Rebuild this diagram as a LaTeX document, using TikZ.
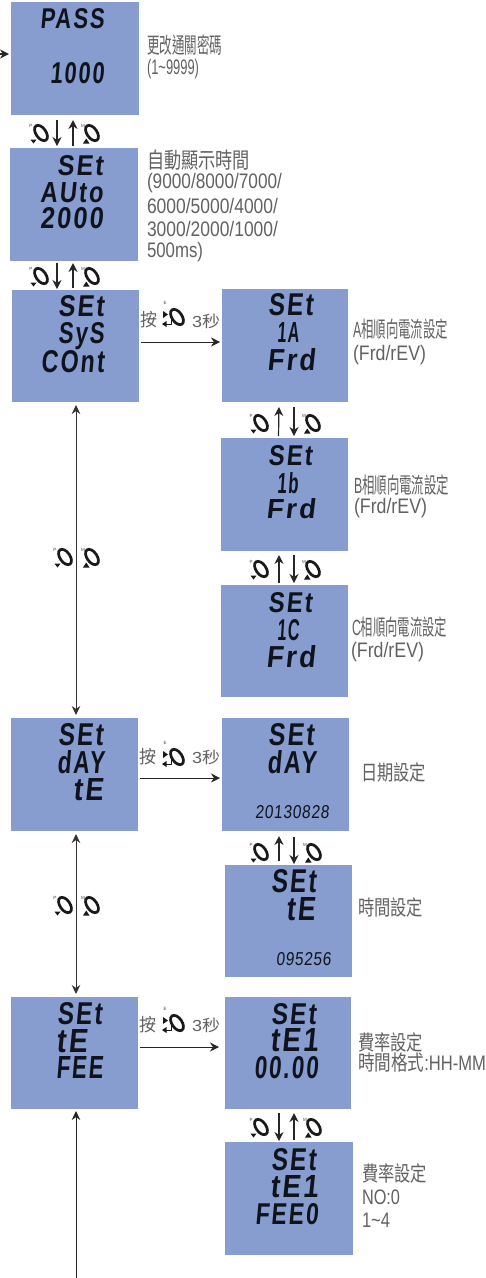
\documentclass[tikz,border=0pt]{standalone}
\usepackage{fontspec}
\usepackage{graphicx}
\usetikzlibrary{arrows.meta,calc}
\setmainfont{Liberation Sans}
\newfontfamily\zhfont{Noto Sans CJK TC}
\newfontfamily\lcdfont[BoldFont={Liberation Sans Bold},FakeSlant=0.12,LetterSpace=9]{Liberation Sans Bold}
\newfontfamily\lcdthin[FakeSlant=0.12,LetterSpace=5]{Liberation Sans}
\definecolor{lcdblue}{HTML}{879DCF}
\definecolor{labelgrey}{HTML}{626262}
\definecolor{lcdink}{HTML}{10131C}
\newcommand{\LCD}[3]{\resizebox{#1pt}{#2pt}{\lcdfont #3}}
\newcommand{\LCDs}[3]{\resizebox{#1pt}{#2pt}{\lcdthin #3}}
\newcommand{\Lbl}[3]{\resizebox{#1pt}{\height}{\fontsize{#2}{#2}\selectfont #3}}
\newcommand{\zh}[1]{{\zhfont #1}}
\tikzset{
  x=1pt,y=-1pt,
  screen/.style={fill=lcdblue,draw=none,inner sep=0pt,outer sep=0pt},
  lcd/.style={anchor=base west,inner sep=0pt,outer sep=0pt,text=lcdink},
  lbl/.style={anchor=west,inner sep=0pt,outer sep=0pt,text=labelgrey},
  link/.style={line width=1pt,draw=black!85},
  small/.style={line width=1.2pt,draw=black!85,-{Stealth[length=9pt,width=9pt]}},
  longlink/.style={line width=1pt,draw=black!80,{Stealth[length=9pt,width=8.5pt]}-{Stealth[length=9pt,width=8.5pt]}},
  horiz/.style={line width=.9pt,draw=black!85,-{Stealth[length=9pt,width=9pt]}},
  knob/.style={line width=2.7pt,draw=black!90},
  tiny/.style={inner sep=0pt,outer sep=0pt,font=\fontsize{4.5}{4.5}\selectfont,text=black!75},
  dialP/.pic={
    \draw[knob,rotate=-55] (0,0) ellipse (8.7 and 5);
    \node[tiny] (letter) at (-10,-7) {P};
    \fill[black!90] (-10.5,6.5) -- (-4.5,6.5) -- (-7.5,10.5) -- cycle;
  },
  dialM/.pic={
    \draw[knob,rotate=-55] (0,0) ellipse (8.7 and 5);
    \node[tiny] (letter) at (-9,-7) {M};
    \fill[black!90] (-9,10.5) -- (-2.5,10.5) -- (-5.7,5.5) -- cycle;
  },
  dialE/.pic={
    \draw[knob,rotate=-55] (0,0) ellipse (8.7 and 5);
    \node[tiny] (letter) at (-12,-14) {E};
    \fill[black!90] (-14,-6) -- (-9,-2.5) -- (-14,1) -- cycle;
    \draw[line width=.9pt,black!90] (-6,1) -- (-6,7) -- (-11,7);
    \fill[black!90] (-15,7) -- (-10.5,4) -- (-10.5,10) -- cycle;
  },
}
\begin{document}
\begin{tikzpicture}
\useasboundingbox (0,0) rectangle (486,1278);
% screens
\fill[white] (0,0) rectangle (486,1278);
\node[screen,minimum width=128pt,minimum height=113pt] (pass) at (75,58.5) {};
\node[screen,minimum width=128pt,minimum height=113pt] (auto) at (74,204.5) {};
\node[screen,minimum width=127pt,minimum height=112pt] (cont) at (75.5,346) {};
\node[screen,minimum width=126pt,minimum height=113pt] (phA) at (285,345.5) {};
\node[screen,minimum width=127pt,minimum height=113pt] (phB) at (284.5,494.5) {};
\node[screen,minimum width=127pt,minimum height=112pt] (phC) at (284.5,641) {};
\node[screen,minimum width=127pt,minimum height=113pt] (dayL) at (74.5,774.5) {};
\node[screen,minimum width=127pt,minimum height=113pt] (dayR) at (285.5,774.5) {};
\node[screen,minimum width=127pt,minimum height=112pt] (time) at (288.5,921) {};
\node[screen,minimum width=127pt,minimum height=112pt] (feeL) at (74.5,1053) {};
\node[screen,minimum width=126pt,minimum height=112pt] (teone) at (288,1053) {};
\node[screen,minimum width=128pt,minimum height=113pt] (feezero) at (289,1198.5) {};
% lcd texts
\node[lcd] (t1) at (40,28) {\LCD{64}{20}{PASS}};
\node[lcd] (t2) at (50,83) {\LCD{54}{21}{1000}};
\node[lcd] (t3) at (57,175) {\LCD{46}{20}{SEt}};
\node[lcd] (t4) at (40,202) {\LCD{63}{20}{AUto}};
\node[lcd] (t5) at (40,228) {\LCD{63}{21}{2000}};
\node[lcd] (t6) at (58,316) {\LCD{46}{21}{SEt}};
\node[lcd] (t7) at (58,343) {\LCD{46}{21}{SyS}};
\node[lcd] (t8) at (41,372) {\LCD{63}{22}{COnt}};
\node[lcd] (t9) at (268,315) {\LCD{45}{22}{SEt}};
\node[lcd] (t10) at (277,342) {\LCD{22}{20}{1A}};
\node[lcd] (t11) at (267,370) {\LCD{48}{22}{Frd}};
\node[lcd] (t12) at (268,465) {\LCD{44}{20}{SEt}};
\node[lcd] (t13) at (277,493) {\LCD{21}{21}{1b}};
\node[lcd] (t14) at (266,518) {\LCD{49}{20}{Frd}};
\node[lcd] (t15) at (268,612) {\LCD{44}{20}{SEt}};
\node[lcd] (t16) at (277,640) {\LCD{22}{21}{1C}};
\node[lcd] (t17) at (266,667) {\LCD{49}{22}{Frd}};
\node[lcd] (t18) at (58,745) {\LCD{45}{22}{SEt}};
\node[lcd] (t19) at (57,773) {\LCD{47}{23}{dAY}};
\node[lcd] (t20) at (73,800) {\LCD{30}{22}{tE}};
\node[lcd] (t21) at (268,745) {\LCD{46}{22}{SEt}};
\node[lcd] (t22) at (267,773) {\LCD{49}{23}{dAY}};
\node[lcd] (t23) at (255,818) {\LCDs{74}{13}{20130828}};
\node[lcd] (t24) at (271,892) {\LCD{45}{23}{SEt}};
\node[lcd] (t25) at (286,920) {\LCD{29}{23}{tE}};
\node[lcd] (t26) at (276,965) {\LCDs{55}{13}{095256}};
\node[lcd] (t27) at (57,1024) {\LCD{45}{22}{SEt}};
\node[lcd] (t28) at (56,1052) {\LCD{31}{23}{tE}};
\node[lcd] (t29) at (56,1078) {\LCD{47}{22}{FEE}};
\node[lcd] (t30) at (271,1024) {\LCD{45}{21}{SEt}};
\node[lcd] (t31) at (270,1051) {\LCD{48}{23}{tE1}};
\node[lcd] (t32) at (254,1078) {\LCD{64}{22}{00.00}};
\node[lcd] (t33) at (271,1170) {\LCD{45}{22}{SEt}};
\node[lcd] (t34) at (270,1197) {\LCD{48}{22}{tE1}};
\node[lcd] (t35) at (255,1224) {\LCD{63}{21}{FEE0}};
% labels
\node[lbl] (l1) at (147,45) {\Lbl{75}{22}{\zh{更改通關密碼}}};
\node[lbl] (l2) at (147,69) {\Lbl{52}{21}{(1\textasciitilde 9999)}};
\node[lbl] (l3) at (147,160) {\Lbl{103}{22}{\zh{自動顯示時間}}};
\node[lbl] (l4) at (147,183) {\Lbl{135}{21}{(9000/8000/7000/}};
\node[lbl] (l5) at (147,206) {\Lbl{131}{21}{6000/5000/4000/}};
\node[lbl] (l6) at (147,229) {\Lbl{131}{21}{3000/2000/1000/}};
\node[lbl] (l7) at (147,252) {\Lbl{56}{21}{500ms)}};
\node[lbl] (l8) at (353,329) {\Lbl{95}{22}{A\zh{相順向電流設定}}};
\node[lbl] (l9) at (353,355) {\Lbl{73}{21}{(Frd/rEV)}};
\node[lbl] (l10) at (354,485) {\Lbl{95}{22}{B\zh{相順向電流設定}}};
\node[lbl] (l11) at (354,508) {\Lbl{73}{21}{(Frd/rEV)}};
\node[lbl] (l12) at (352,627) {\Lbl{95}{22}{C\zh{相順向電流設定}}};
\node[lbl] (l13) at (351,652) {\Lbl{73}{21}{(Frd/rEV)}};
\node[lbl] (l14) at (361,772) {\Lbl{65}{21}{\zh{日期設定}}};
\node[lbl] (l15) at (358,907) {\Lbl{65}{21}{\zh{時間設定}}};
\node[lbl] (l16) at (358,1042) {\Lbl{65}{21}{\zh{費率設定}}};
\node[lbl] (l17) at (358,1063) {\Lbl{128}{21}{\zh{時間格式}:HH-MM}};
\node[lbl] (l18) at (362,1173) {\Lbl{65}{21}{\zh{費率設定}}};
\node[lbl] (l19) at (362,1197) {\Lbl{38}{21}{NO:0}};
\node[lbl] (l20) at (362,1220) {\Lbl{28}{21}{1\textasciitilde 4}};
\node[lbl] (k1) at (140,320) {\Lbl{17}{18}{\zh{按}}};
\node[lbl] (k2) at (192,321) {\Lbl{28}{16}{3\zh{秒}}};
\node[lbl] (k3) at (139,757) {\Lbl{17}{18}{\zh{按}}};
\node[lbl] (k4) at (192,757) {\Lbl{28}{16}{3\zh{秒}}};
\node[lbl] (k5) at (139,1025) {\Lbl{17}{18}{\zh{按}}};
\node[lbl] (k6) at (192,1025) {\Lbl{28}{16}{3\zh{秒}}};
% dials
\pic (d1) at (41,133) {dialP};
\pic (d2) at (92,133) {dialM};
\pic (d3) at (41,276) {dialP};
\pic (d4) at (92,276) {dialM};
\pic (d5) at (261,423) {dialP};
\pic (d6) at (313,423) {dialM};
\pic (d7) at (261,569) {dialP};
\pic (d8) at (313,569) {dialM};
\pic (d9) at (65,557) {dialP};
\pic (d10) at (92,557) {dialM};
\pic (d11) at (261,852) {dialP};
\pic (d12) at (314,852) {dialM};
\pic (d13) at (65,905) {dialP};
\pic (d14) at (92,905) {dialM};
\pic (d15) at (261,1127) {dialP};
\pic (d16) at (314,1127) {dialM};
\pic (d17) at (177,317) {dialE};
\pic (d18) at (177,757) {dialE};
\pic (d19) at (177,1023) {dialE};
% connectors
\coordinate (entry) at (0,54);
\coordinate (foot) at (76,1278);
\draw[small,shorten >=2pt] (entry) -- ([yshift=4.5pt]pass.west);
\draw[small,shorten <=5pt,shorten >=2pt] ([xshift=-18pt]pass.south) -- ([xshift=-17pt]auto.north);
\draw[small,shorten <=2pt,shorten >=5pt] ([xshift=-1pt]auto.north) -- ([xshift=-2pt]pass.south);
\draw[small,shorten <=2pt,shorten >=1pt] ([xshift=-17pt]auto.south) -- ([xshift=-18.5pt]cont.north);
\draw[small,shorten <=2pt,shorten >=2pt] ([xshift=-2.5pt]cont.north) -- ([xshift=-1pt]auto.south);
\draw[horiz,shorten <=2pt,shorten >=2pt] ([yshift=4pt]cont.east) -- ([yshift=3.5pt]phA.west);
\draw[small,shorten <=2pt,shorten >=5pt] ([xshift=-6pt]phB.north) -- ([xshift=-6pt]phA.south);
\draw[small,shorten <=5pt,shorten >=2pt] ([xshift=9pt]phA.south) -- ([xshift=9.5pt]phB.north);
\draw[small,shorten <=2pt,shorten >=4pt] ([xshift=-5.5pt]phC.north) -- ([xshift=-5.5pt]phB.south);
\draw[small,shorten <=4pt,shorten >=2pt] ([xshift=9.5pt]phB.south) -- ([xshift=9.5pt]phC.north);
\draw[longlink,shorten <=3pt,shorten >=3pt] ([xshift=.5pt]cont.south) -- ([xshift=1.5pt]dayL.north);
\draw[horiz,shorten <=2pt,shorten >=2pt] ([yshift=-3.5pt]dayL.east) -- ([yshift=-3.5pt]dayR.west);
\draw[small,shorten <=4pt,shorten >=5pt] ([xshift=-9.5pt]time.north) -- ([xshift=-6.5pt]dayR.south);
\draw[small,shorten <=6pt,shorten >=1pt] ([xshift=8.5pt]dayR.south) -- ([xshift=5.5pt]time.north);
\draw[longlink,shorten <=3pt,shorten >=3pt] ([xshift=1.5pt]dayL.south) -- ([xshift=1.5pt]feeL.north);
\draw[horiz,shorten <=2pt,shorten >=6pt] ([yshift=6pt]feeL.east) -- ([yshift=6pt]teone.west);
\draw[small,shorten <=4pt,shorten >=1pt] ([xshift=-9pt]teone.south) -- ([xshift=-10pt]feezero.north);
\draw[small,shorten <=2pt,shorten >=4pt] ([xshift=5pt]feezero.north) -- ([xshift=6pt]teone.south);
\draw[link,-{Stealth[length=9pt,width=8.5pt]},shorten >=2pt] (foot) -- ([xshift=1.5pt]feeL.south);
\end{tikzpicture}
\end{document}
